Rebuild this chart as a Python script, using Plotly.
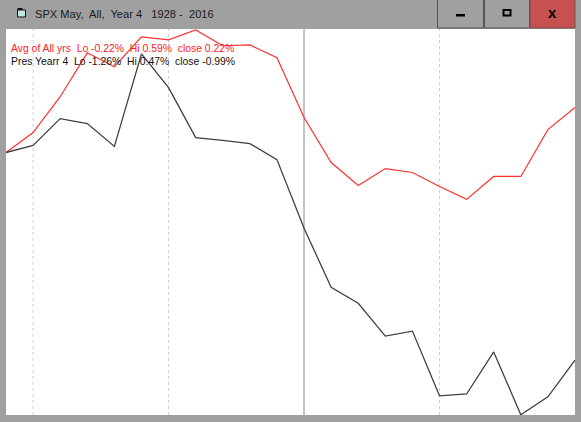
import plotly.graph_objects as go

steps = list(range(22))
avg_all_years = [0.00, 0.096, 0.268, 0.479, 0.412, 0.556, 0.541, 0.589, 0.513, 0.517, 0.455, 0.168,
                 -0.048, -0.158, -0.077, -0.096, -0.163, -0.225, -0.115, -0.115, 0.110, 0.216]
pres_year_4 = [0.00, 0.034, 0.163, 0.139, 0.029, 0.474, 0.312, 0.072, 0.058, 0.043, -0.034, -0.364,
               -0.647, -0.724, -0.882, -0.858, -1.169, -1.160, -0.958, -1.260, -1.174, -0.997]
grid_steps = [1, 6, 16]
mid_step = 11
title_text = "SPX May,  All,  Year 4   1928 -  2016"
avg_label = "Avg of All yrs  Lo -0.22%  Hi 0.59%  close 0.22%"
pres_label = "Pres Yearr 4  Lo -1.26%  Hi 0.47%  close -0.99%"

W, H = 581, 422
GRAY = "#a0a0a0"
FONT = "Liberation Sans"
L, R, T, B = 6, 6, 29, 7
pw, ph = W - L - R, H - T - B

def px(x):
    return (x - L) / pw

def py(y):
    return (H - y - B) / ph

fig = go.Figure()
fig.add_trace(go.Scatter(x=steps, y=avg_all_years, mode="lines", name="Avg of All yrs",
                         line=dict(color="#ff3030", width=1.2), showlegend=False))
fig.add_trace(go.Scatter(x=steps, y=pres_year_4, mode="lines", name="Pres Year 4",
                         line=dict(color="#404040", width=1.3), showlegend=False))

shapes = []
for s in grid_steps:
    shapes.append(dict(type="line", xref="x", yref="paper", x0=s, x1=s, y0=0, y1=1, layer="below",
                       line=dict(color="#cfcfcf", width=1, dash="3px,3px")))
shapes.append(dict(type="line", xref="x", yref="paper", x0=mid_step, x1=mid_step, y0=0, y1=1, layer="below",
                   line=dict(color="#c4c4c8", width=2)))

def rect(x0, y0, x1, y1, fill, line=None, width=1):
    shapes.append(dict(type="rect", xref="paper", yref="paper", x0=px(x0), x1=px(x1), y0=py(y1), y1=py(y0),
                       fillcolor=fill, layer="above",
                       line=dict(color=line or fill, width=width if line else 0)))

# window buttons
rect(437.5, -1, 483.5, 28, GRAY, "#555555")
rect(484.5, -1, 529.5, 28, GRAY, "#555555")
rect(530, -1, 575, 28, "#c75050", "#705050")
rect(456, 14, 465, 16.5, "#000000")
rect(503.5, 10, 510.5, 15.5, "rgba(0,0,0,0)", "#000000", 2)
# title icon
rect(17.5, 10, 25.5, 17, "#bfe8e8", "#111111", 1)
rect(17.5, 8, 22.5, 10, "#111111")

annotations = []
for text, x, y, size, color in [
    (title_text, 34, 14, 11.1, "#1a1a1a"),
    (avg_label, 10, 48.5, 10.4, "#ff2020"),
    (pres_label, 10, 62, 10.4, "#111111"),
]:
    annotations.append(dict(text=text, x=px(x), y=py(y), xref="paper", yref="paper", xanchor="left",
                            yanchor="middle", showarrow=False, borderpad=0,
                            font=dict(size=size, color=color, family=FONT)))
annotations.append(dict(text="<b>x</b>", x=px(552.5), y=py(12.5), xref="paper", yref="paper", showarrow=False,
                        xanchor="center", yanchor="middle",
                        font=dict(size=15, color="#000000", family=FONT)))

fig.update_layout(
    width=W, height=H, autosize=False,
    margin=dict(l=L, r=R, t=T, b=B),
    paper_bgcolor=GRAY, plot_bgcolor="#ffffff",
    xaxis=dict(range=[0, 21], visible=False, showgrid=False, zeroline=False),
    yaxis=dict(range=[-1.2610, 0.5934], visible=False, showgrid=False, zeroline=False),
    shapes=shapes, annotations=annotations,
)

fig.write_html("out.html", config=dict(displayModeBar=False),
               post_script="document.body.style.margin='0';document.body.style.overflow='hidden';")
